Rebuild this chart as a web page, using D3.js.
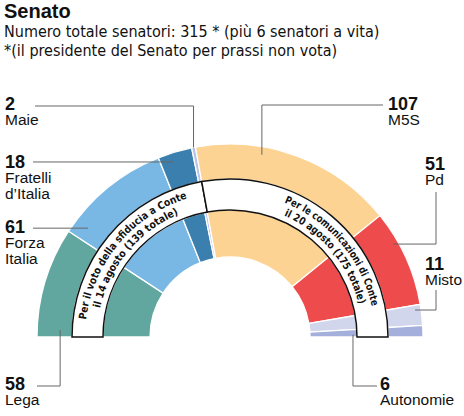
<!DOCTYPE html>
<meta charset="utf-8">
<style>
body { margin: 0; background: #fff; }
svg { display: block; }
.title { font: bold 20px "Liberation Sans", Arial, sans-serif; fill: #111; }
.sub { font: 16px "DejaVu Sans Condensed", "Liberation Sans Narrow", sans-serif; fill: #111; }
.num { font: bold 18px "Liberation Sans", Arial, sans-serif; fill: #111; }
.name { font: 15.5px "Liberation Sans", Arial, sans-serif; fill: #111; }
.band { fill: #fff; stroke: #111; stroke-width: 1.5px; }
.bandtext { font: bold 10.5px "DejaVu Sans Condensed", "Liberation Sans Narrow", sans-serif; fill: #111; }
.leader { fill: none; stroke: #666; stroke-width: 1px; }
</style>
<svg width="464" height="416"></svg>
<script src="https://d3js.org/d3.v7.min.js"></script>
<script>

// data
var parties = ["Lega", "Forza Italia", "Fratelli d’Italia", "Maie", "M5S", "Pd", "Misto", "Autonomie"];
var nameLines = [["Lega"], ["Forza", "Italia"], ["Fratelli", "d’Italia"], ["Maie"], ["M5S"], ["Pd"], ["Misto"], ["Autonomie"]];
var seats = [58, 61, 18, 2, 107, 51, 11, 6];
var colors = ["#62a79f", "#79b8e4", "#3a7fad", "#b7c3ea", "#fdd393", "#ee4c4c", "#d2d6ec", "#a4afdc"];

var titleText = "Senato";
var subLines = ["Numero totale senatori: 315 * (più 6 senatori a vita)",
                "*(il presidente del Senato per prassi non vota)"];

// the two voting blocs (left = first 4 parties)
var blocCut = 4;
var blocLines = [["Per il voto della sfiducia a Conte", "il 14 agosto (139 totale)"],
                 ["Per le comunicazioni di Conte", "il 20 agosto (175 totale)"]];

var svg = d3.select("svg");

var cx = 230, cy = 337;
var rOuter = 193, rBandOut = 158, rBandIn = 127, rInner = 80;

// titles
svg.append("text").attr("class", "title").attr("x", 4).attr("y", 18).text(titleText);
svg.selectAll(".sub").data(subLines).enter().append("text")
    .attr("class", "sub")
    .attr("x", 4)
    .attr("y", function(d, i) { return 37 + i * 19; })
    .text(function(d) { return d; });

var pie = d3.pie()
    .sort(null)
    .startAngle(-Math.PI / 2)
    .endAngle(Math.PI / 2)
    .value(function(d) { return d; });

var slices = pie(seats);

var g = svg.append("g").attr("transform", "translate(" + cx + "," + cy + ")");

var arcOuter = d3.arc().innerRadius(rBandOut).outerRadius(rOuter);
var arcInner = d3.arc().innerRadius(rInner).outerRadius(rBandIn);

[arcOuter, arcInner].forEach(function(a) {
  g.append("g").selectAll("path")
      .data(slices)
      .enter().append("path")
      .attr("d", a)
      .attr("fill", function(d, i) { return colors[i]; })
      .attr("stroke", "#fff")
      .attr("stroke-width", 1.3);
});

// bands
var cutAngle = slices[blocCut - 1].endAngle;
var bands = [[-Math.PI / 2, cutAngle], [cutAngle, Math.PI / 2]];
var arcBand = d3.arc().innerRadius(rBandIn).outerRadius(rBandOut);

g.selectAll(".band").data(bands).enter().append("path")
    .attr("class", "band")
    .attr("d", function(d) { return arcBand({startAngle: d[0], endAngle: d[1]}); });

function pt(a, r) { return [r * Math.sin(a), -r * Math.cos(a)]; }

function arcPath(a0, a1, r) {
  var p0 = pt(a0, r), p1 = pt(a1, r);
  var large = (a1 - a0) > Math.PI ? 1 : 0;
  return "M" + p0[0] + "," + p0[1] + "A" + r + "," + r + " 0 " + large + " 1 " + p1[0] + "," + p1[1];
}

var defs = svg.append("defs");
var lineRadii = [145, 133];
var offsets = ["50%", "60%"];
var textLens = [[167, 127], [141, 120]];
bands.forEach(function(b, bi) {
  lineRadii.forEach(function(r, li) {
    var id = "tp" + bi + "_" + li;
    defs.append("path").attr("id", id).attr("d", arcPath(b[0], b[1], r))
        .attr("transform", "translate(" + cx + "," + cy + ")");
    svg.append("text").attr("class", "bandtext")
      .append("textPath")
        .attr("href", "#" + id)
        .attr("startOffset", offsets[bi])
        .attr("text-anchor", "middle")
        .attr("textLength", textLens[bi][li])
        .attr("lengthAdjust", "spacingAndGlyphs")
        .text(blocLines[bi][li]);
  });
});

// labels and leaders (layout)
var labelLayout = [
  {x: 5,   y: 390, t: 0.07, r: 170, lead: "elbowUp",   sx: 37,  sy: 386},
  {x: 5,   y: 233, t: 0.12, r: 179, lead: "flat",      sx: 33},
  {x: 5,   y: 168, t: 0.37, r: 184, lead: "flat",      sx: 33},
  {x: 5,   y: 110, t: 0.5,  r: rOuter, lead: "elbowUp", sx: 35,  sy: 106},
  {x: 388, y: 110, t: 0.33, r: 185, lead: "elbowUp",   sx: 383, sy: 105},
  {x: 425, y: 170, t: 0.32, r: 188, lead: "outUp",     kx: 436, ky: 192},
  {x: 425, y: 270, t: 0.23, r: 187, lead: "outUp",     kx: 436, ky: 290},
  {x: 380, y: 390, t: 0.7,  r: 123, lead: "downOut",   kx: 377, ky: 386}
];

var line = d3.line();

labelLayout.forEach(function(L, i) {
  var s = slices[i];
  var a = s.startAngle + L.t * (s.endAngle - s.startAngle);
  var p = pt(a, L.r);
  var ax = cx + p[0], ay = cy + p[1];
  var pts;
  if (L.lead === "flat") pts = [[L.sx, ay], [ax, ay]];
  else if (L.lead === "elbowUp") pts = [[L.sx, L.sy], [ax, L.sy], [ax, ay]];
  else if (L.lead === "outUp") pts = [[ax, ay], [L.kx, ay], [L.kx, L.ky]];
  else pts = [[ax, ay], [ax, L.ky], [L.kx, L.ky]];
  svg.append("path").attr("class", "leader").attr("d", line(pts));

  svg.append("text").attr("class", "num").attr("x", L.x).attr("y", L.y).text(seats[i]);
  svg.append("g").selectAll("text").data(nameLines[i]).enter().append("text")
      .attr("class", "name")
      .attr("x", L.x)
      .attr("y", function(d, j) { return L.y + 15 + j * 16; })
      .text(function(d) { return d; });
});

</script>
